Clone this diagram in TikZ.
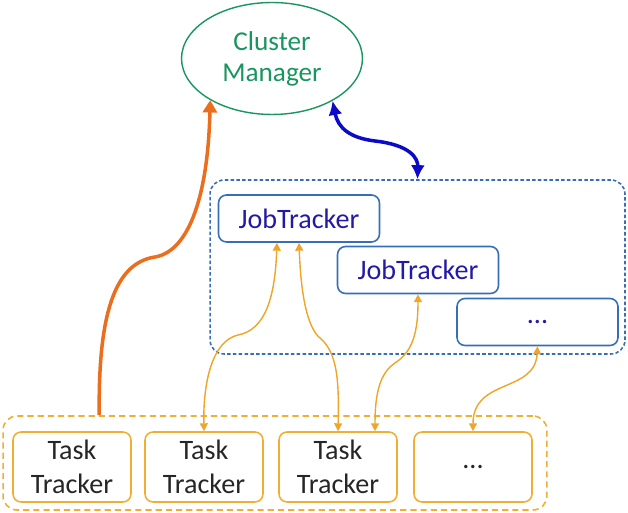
\documentclass[tikz,border=0pt]{standalone}
\usepackage{fontspec}
\setmainfont{Carlito}
\usetikzlibrary{shapes.geometric,arrows.meta}
\definecolor{cmgreen}{RGB}{25,150,95}
\definecolor{jtblue}{RGB}{55,110,185}
\definecolor{jtink}{RGB}{35,25,165}
\definecolor{ttgold}{RGB}{240,175,50}
\definecolor{linkgold}{RGB}{238,165,40}
\definecolor{hbeat}{RGB}{235,110,30}
\definecolor{ctrlblue}{RGB}{10,10,200}

\begin{document}
\begin{tikzpicture}[x=0.02cm, y=0.02cm, font=\fontsize{16}{19}\selectfont,
  jtnode/.style={draw=jtblue, line width=0.9pt, rounded corners=0.16cm, text=jtink,
    minimum width=3.22cm, minimum height=0.94cm, inner sep=0pt},
  ttnode/.style={draw=ttgold, line width=0.9pt, rounded corners=0.16cm, align=center,
    text=black!85, minimum width=2.36cm, minimum height=1.4cm, inner sep=0pt},
  link/.style={draw=linkgold, line width=0.8pt,
    {Triangle[width=4.5pt,length=4.5pt]}-{Triangle[width=4.5pt,length=4.5pt]}}]
\useasboundingbox (0,0) rectangle (628,513);
% --- cluster manager ---
\node[ellipse, draw=cmgreen, line width=0.8pt, text=cmgreen, align=center,
  font=\fontsize{15.5}{17.6}\selectfont,
  minimum width=3.62cm, minimum height=2.24cm, inner sep=0pt] (cm) at (272,454.5) {Cluster\\Manager};
% --- job trackers ---
\node[draw=jtblue, line width=0.9pt, dash pattern=on 2pt off 1.3pt, rounded corners=0.28cm,
  minimum width=8.3cm, minimum height=3.48cm] (jtarea) at (417.5,246) {};
\node[jtnode] (jt1) at (299,294.5) {JobTracker};
\node[jtnode] (jt2) at (418,243) {JobTracker};
\node[jtnode] (jtmore) at (537.5,191) {...};
% --- task trackers ---
\node[draw=ttgold, line width=0.9pt, dash pattern=on 3.5pt off 2.3pt, rounded corners=0.28cm,
  minimum width=10.88cm, minimum height=1.88cm] (ttarea) at (275,50) {};
\node[ttnode] (tt1) at (72,46) {Task\\Tracker};
\node[ttnode] (tt2) at (204,46) {Task\\Tracker};
\node[ttnode] (tt3) at (338,46) {Task\\Tracker};
\node[ttnode] (tt4) at (473,46) {...};
% --- connectors ---
\draw[hbeat, line width=2pt, -{Triangle[width=8pt,length=7pt]}]
  ([xshift=1.94cm]ttarea.north west) .. controls (98,200) and (115,250) .. (155,256)
  .. controls (190,262) and (208,320) .. (cm.214);
\draw[ctrlblue, line width=2pt, {Latex[width=8pt,length=8pt]}-{Latex[width=8pt,length=8pt]}]
  (cm.325) .. controls (338,385) and (350,375) .. (375,372)
  .. controls (410,368) and (418,355) .. (jtarea.north);
\draw[link] ([xshift=-0.44cm]jt1.south) .. controls (275,215) and (265,183) .. (238,178)
  .. controls (212,172) and (203,130) .. (tt2.north);
\draw[link] (jt1.south) .. controls (301,215) and (308,185) .. (320,175)
  .. controls (338,160) and (339,130) .. (tt3.north);
\draw[link] (jt2.south) .. controls (418,175) and (410,160) .. (395,150)
  .. controls (380,140) and (375,120) .. ([xshift=0.74cm]tt3.north);
\draw[link] (jtmore.south) .. controls (535,120) and (473,135) .. (tt4.north);
\end{tikzpicture}
\end{document}
